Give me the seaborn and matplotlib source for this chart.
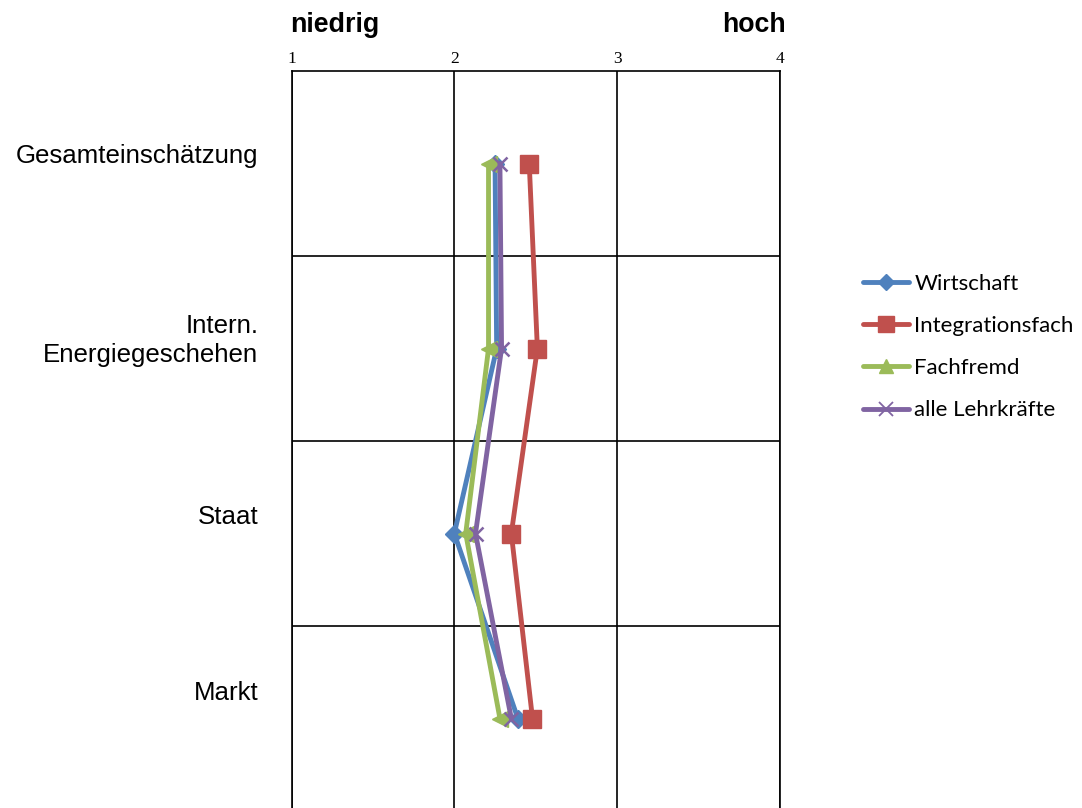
import matplotlib
matplotlib.use("Agg")
import matplotlib.pyplot as plt
import matplotlib.transforms as mtransforms
from matplotlib.lines import Line2D
import seaborn as sns
import numpy as np

# Categories (top to bottom) and mean ratings per teacher group
categories = ["Gesamteinschätzung", "Intern.\nEnergiegeschehen", "Staat", "Markt"]
wirtschaft = [2.25, 2.26, 2.00, 2.39]
integrationsfach = [2.46, 2.51, 2.35, 2.48]
fachfremd = [2.21, 2.21, 2.07, 2.28]
alle_lehrkraefte = [2.28, 2.29, 2.13, 2.35]
series_names = ["Wirtschaft", "Integrationsfach", "Fachfremd", "alle Lehrkräfte"]
x_ticks = [1, 2, 3, 4]

sns.set_theme(style="white")
plt.rcParams["font.family"] = ["Liberation Sans", "DejaVu Sans"]
plt.rcParams["text.color"] = "black"
plt.rcParams["xtick.color"] = "black"
plt.rcParams["ytick.color"] = "black"

fig = plt.figure(figsize=(10.82, 8.08), dpi=100)
ax = fig.add_axes([291.5 / 1082, -3 / 808, (780 - 291.5) / 1082, 740 / 808])

pos = np.arange(len(categories))
styles = [
    (wirtschaft, "#4F81BD", "D", 9, 1.0),
    (integrationsfach, "#C0504D", "s", 13, 1.0),
    (fachfremd, "#9BBB59", "<", 12, 1.0),
    (alle_lehrkraefte, "#8064A2", "x", 10, 1.8),
]
for (vals, col, mk, ms, mew), name in zip(styles, series_names):
    sns.lineplot(x=vals, y=pos, orient="y", sort=False, color=col, marker=mk,
                 markersize=ms, markeredgewidth=mew, markeredgecolor=col,
                 linewidth=3.5, ax=ax, legend=False)

ax.set_xlim(1, 4)
ax.set_ylim(len(categories) - 0.5, -0.5)
ax.set_xticks(x_ticks)
ax.set_xticklabels([str(t) for t in x_ticks], family="Liberation Serif", fontsize=12.5)
ax.xaxis.tick_top()
ax.tick_params(axis="x", length=0, pad=3)

ax.set_yticks(pos)
ax.set_yticklabels(categories, fontsize=18.6, ha="right", linespacing=1.25)
ax.tick_params(axis="y", length=0, pad=24)
offsets = [10, 13, 19, 28]
for lbl, off in zip(ax.get_yticklabels(), offsets):
    lbl.set_transform(lbl.get_transform() +
                      mtransforms.ScaledTranslation(0, off / 100, fig.dpi_scale_trans))

ax.set_yticks(pos[:-1] + 0.5, minor=True)
ax.grid(True, which="minor", axis="y", color="black", linewidth=1.2)
ax.grid(True, which="major", axis="x", color="black", linewidth=1.2)
ax.grid(False, which="major", axis="y")
ax.tick_params(axis="y", which="minor", length=0)
for sp in ax.spines.values():
    sp.set_color("black")
    sp.set_linewidth(1.2)
ax.set_xlabel("")
ax.set_ylabel("")

fig.text(290 / 1082, 1 - 25 / 808, "niedrig", fontsize=19.3, fontweight="bold",
         ha="left", va="center")
fig.text(786 / 1082, 1 - 25 / 808, "hoch", fontsize=19.3, fontweight="bold",
         ha="right", va="center")

handles = []
leg_styles = [("#4F81BD", "D", 8), ("#C0504D", "s", 11), ("#9BBB59", "^", 10), ("#8064A2", "x", 10)]
for (col, mk, ms), name in zip(leg_styles, series_names):
    handles.append(Line2D([0], [0], color=col, marker=mk, markersize=ms,
                          markeredgecolor=col, markeredgewidth=1.3 if mk == "x" else 1,
                          linewidth=3.5, label=name))
leg = fig.legend(handles=handles, loc="center left", bbox_to_anchor=(852 / 1082, 1 - 347 / 808),
                 frameon=False, handlelength=2.05, handletextpad=0.25, borderpad=0,
                 labelspacing=1.0, prop={"family": ["Lato", "DejaVu Sans"], "size": 16})

fig.savefig("out.png", dpi=100)
